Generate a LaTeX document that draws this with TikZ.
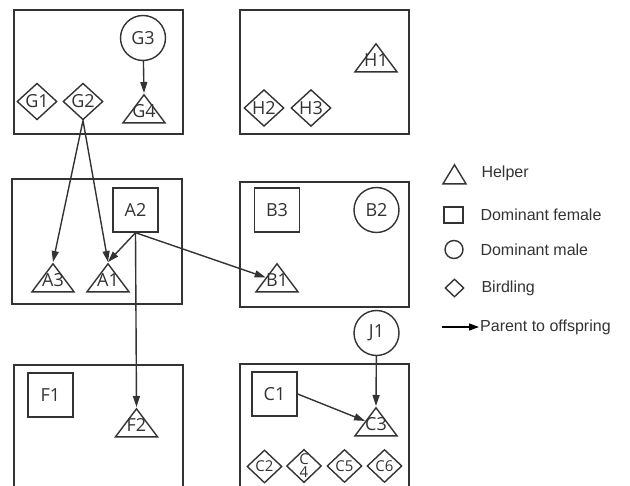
\documentclass[tikz,border=0pt]{standalone}
\usepackage{fontspec}
\setmainfont{Open Sans}
\newfontfamily\legendfont{Liberation Sans}
\usetikzlibrary{shapes.geometric, arrows.meta}

\definecolor{ink}{HTML}{333333}

\begin{document}
\begin{tikzpicture}[x=1pt, y=-1pt,
    every node/.style={text=ink, font=\fontsize{18}{20}\selectfont},
    nestbox/.style={draw=ink, line width=1.4pt, rectangle,
        minimum width=169pt, minimum height=124pt, inner sep=0pt},
    helpertri/.style={draw=ink, line width=1.4pt, isosceles triangle,
        shape border rotate=90, isosceles triangle stretches,
        minimum width=42pt, minimum height=28pt, inner sep=0pt, anchor=apex},
    helperlabel/.style={label={[yshift=1pt]center:#1}},
    femalebox/.style={draw=ink, line width=1.4pt, rectangle,
        minimum width=45pt, minimum height=44pt, inner sep=0pt},
    malecirc/.style={draw=ink, line width=1.4pt, circle,
        minimum size=45pt, inner sep=0pt},
    birdbox/.style={draw=ink, line width=1.4pt, diamond,
        minimum width=40pt, minimum height=35pt, inner sep=0pt},
    smallbird/.style={birdbox, minimum width=35pt, minimum height=33pt,
        font=\fontsize{15}{15}\selectfont},
    offspring/.style={draw=ink, line width=1.4pt, -{Triangle[length=11pt, width=7pt]}},
    legendtext/.style={anchor=west, font=\legendfont\fontsize{16}{18}\selectfont},
]

    \clip (0, 0) rectangle (630, 486);

    % 巢 G
    \node[nestbox] (nestG) at (98.5, 72) {};
    \node[malecirc] (G3) at (143, 38) {G3};
    \node[helpertri, helperlabel=G4] (G4) at (144, 93) {};
    \node[birdbox] (G1) at (37, 101.5) {G1};
    \node[birdbox] (G2) at (83, 101.5) {G2};

    % 巢 H
    \node[nestbox] (nestH) at (324.5, 72) {};
    \node[helpertri, helperlabel=H1] (H1) at (376, 42) {};
    \node[birdbox] (H2) at (264, 108) {H2};
    \node[birdbox] (H3) at (311, 108) {H3};

    % 巢 A
    \node[nestbox, minimum width=170pt, minimum height=125pt] (nestA) at (97, 241.5) {};
    \node[femalebox] (A2) at (135.5, 210) {A2};
    \node[helpertri, helperlabel=A3] (A3) at (53, 262) {};
    \node[helpertri, helperlabel=A1] (A1) at (108, 262) {};

    % 巢 B
    \node[nestbox, minimum height=125pt] (nestB) at (324.5, 244.5) {};
    \node[femalebox] (B3) at (277, 210) {B3};
    \node[malecirc] (B2) at (376.5, 210) {B2};
    \node[helpertri, helperlabel=B1] (B1) at (277, 262) {};

    % 巢 F
    \node[nestbox, minimum height=135pt] (nestF) at (98.5, 432.5) {};
    \node[femalebox] (F1) at (50.5, 395) {F1};
    \node[helpertri, helperlabel=F2] (F2) at (136.5, 407) {};

    % 巢 C
    \node[nestbox, minimum height=136pt] (nestC) at (324.5, 432) {};
    \node[malecirc] (J1) at (376.5, 333) {J1};
    \node[femalebox] (C1) at (274.5, 394) {C1};
    \node[helpertri, helperlabel=C3] (C3) at (376, 406) {};
    \node[smallbird] (C2) at (264.5, 466.5) {C2};
    \node[smallbird, align=center, font=\fontsize{15}{13}\selectfont] (C4) at (304, 466) {C\\4};
    \node[smallbird] (C5) at (344.5, 466) {C5};
    \node[smallbird] (C6) at (384.5, 466) {C6};

    % 亲代到子代
    \draw[offspring] (G3) -- (G4.apex);
    \draw[offspring] (G2.south) -- (A3.apex);
    \draw[offspring] (G2.south) -- (A1.apex);
    \draw[offspring] (A2.south) -- (A1.apex);
    \draw[offspring] (A2.south) -- (B1);
    \draw[offspring] (A2.south) -- (F2.apex);
    \draw[offspring] (J1) -- (C3.apex);
    \draw[offspring] (C1.east) -- (C3);

    % 图例
    \node[helpertri, minimum width=23pt, minimum height=19pt] (legHelper) at (454.5, 163) {};
    \node[legendtext] (legHelperTxt) at (478, 173) {Helper};
    \node[femalebox, minimum width=19pt, minimum height=16pt] (legFemale) at (453.5, 215) {};
    \node[legendtext] (legFemaleTxt) at (477, 215) {Dominant female};
    \node[malecirc, minimum size=18pt] (legMale) at (454, 249.5) {};
    \node[legendtext] (legMaleTxt) at (477, 250) {Dominant male};
    \node[birdbox, minimum width=19pt, minimum height=18pt] (legBird) at (454.5, 288) {};
    \node[legendtext] (legBirdTxt) at (478, 288) {Birdling};
    \coordinate (legArrow) at (442, 327);
    \node[legendtext, inner sep=1pt] (legArrowTxt) at (479, 327) {Parent to offspring};
    \draw[line width=1.4pt, -{Triangle[length=10pt, width=7pt]}] (legArrow) -- (legArrowTxt.west);

\end{tikzpicture}
\end{document}
